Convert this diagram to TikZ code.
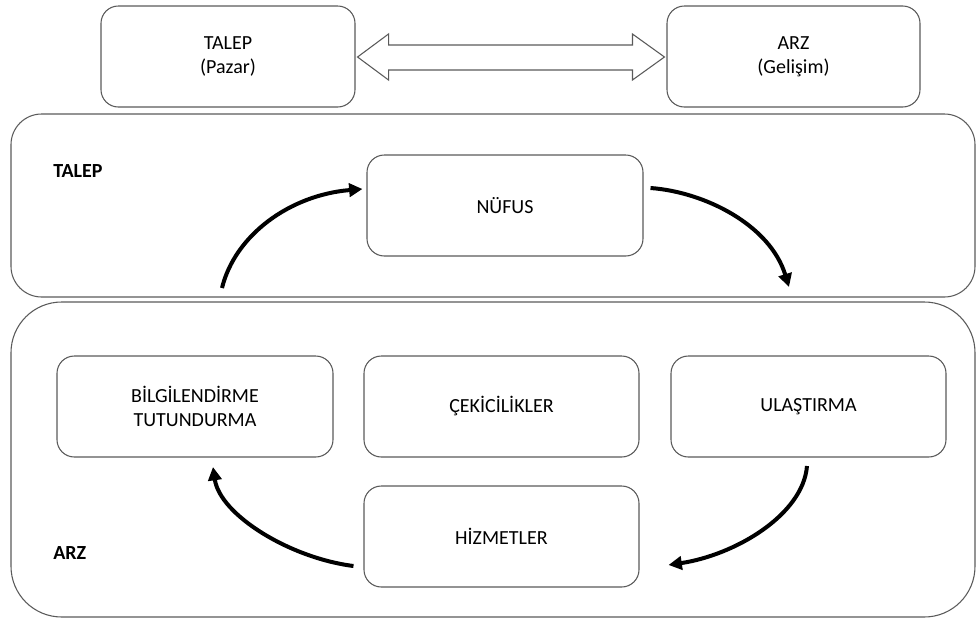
\documentclass[tikz,border=0pt]{standalone}
\usepackage{fontspec}
\setmainfont{Carlito}
\usetikzlibrary{arrows.meta,calc}
\definecolor{boxline}{RGB}{90,90,90}
\tikzset{
  box/.style={draw=boxline, line width=0.8pt, rounded corners=13pt, fill=white,
    minimum width=276*0.75pt, minimum height=101*0.75pt, inner sep=0pt,
    align=center, font=\fontsize{15}{18}\selectfont},
  panel/.style={draw=boxline, line width=0.8pt, minimum width=964*0.75pt, inner sep=0pt},
  paneltitle/.style={font=\fontsize{15}{18}\selectfont\bfseries, anchor=west, inner sep=0pt},
  flow/.style={line width=3pt, -{Triangle[length=10pt,width=10pt]}},
  hollow/.style={draw=boxline, line width=0.8pt, fill=white, line join=miter}
}
\begin{document}
\begin{tikzpicture}[x=0.75pt,y=-0.75pt]
\useasboundingbox (0,0) rectangle (976,618);
% panels
\node[panel, rounded corners=23pt, minimum height=183*0.75pt] (talepPanel) at (493,205.5) {};
\node[panel, rounded corners=38pt, minimum height=315*0.75pt] (arzPanel) at (493,459.5) {};
\node[paneltitle] (talepTitle) at (53,171) {TALEP};
\node[paneltitle] (arzTitle) at (53,553) {ARZ};
% top boxes
\node[box, minimum width=254*0.75pt] (talepTop) at (228,56.5) {TALEP\\(Pazar)};
\node[box, minimum width=253*0.75pt] (arzTop) at (793.5,56.5) {ARZ\\(Gelişim)};
% inner boxes
\node[box] (nufus) at (505,205.5) {NÜFUS};
\node[box] (bilgi) at (195,406.5) {BİLGİLENDİRME\\TUTUNDURMA};
\node[box, minimum width=275*0.75pt] (cekici) at (501.5,406.5) {ÇEKİCİLİKLER};
\node[box, minimum width=275*0.75pt] (ulas) at (808.5,406.5) {ULAŞTIRMA};
\node[box, minimum width=275*0.75pt] (hizmet) at (501.5,536.5) {HİZMETLER};
% hollow double arrow between top boxes
\coordinate (dl) at ($(talepTop.east)+(2,0.5)$);
\coordinate (dr) at ($(arzTop.west)+(-2,0.5)$);
\draw[hollow] (dl) -- ++(31,-23) -- ++(0,11) -- ($(dr)+(-32,-12)$) -- ++(0,-11) -- (dr)
  -- ++(-32,23) -- ++(0,-10) -- ($(dl)+(31,13)$) -- ++(0,10) -- cycle;
% curved flow arrows
\coordinate (a1s) at (222,288);
\coordinate (a1e) at ($(nufus.west)+(-4,-16.5)$);
\draw[flow] (a1s) .. controls (235,235) and (290,195) .. (a1e);
\coordinate (a2s) at ($(nufus.east)+(7,-17.5)$);
\coordinate (a2e) at (789,287);
\draw[flow] (a2s) .. controls (705,192) and (770,225) .. (a2e);
\coordinate (a3s) at (807,466);
\coordinate (a3e) at ($(hizmet.east)+(29,28.5)$);
\draw[flow] (a3s) .. controls (803,515) and (735,555) .. (a3e);
\coordinate (a4s) at ($(hizmet.west)+(-10,29.5)$);
\coordinate (a4e) at (213,467);
\draw[flow] (a4s) .. controls (290,558) and (220,515) .. (a4e);
\end{tikzpicture}
\end{document}
